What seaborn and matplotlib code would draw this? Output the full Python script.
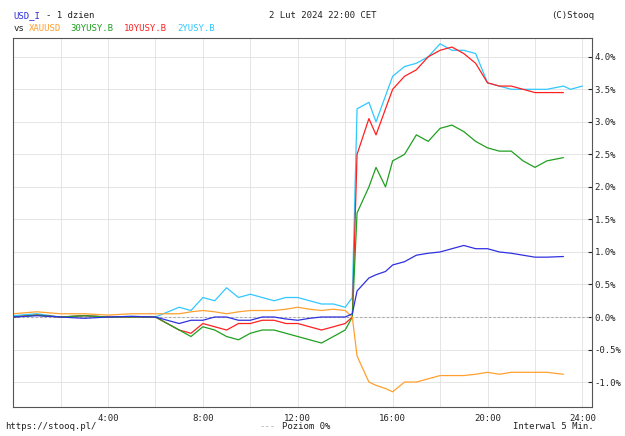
import matplotlib
matplotlib.use("Agg")
import matplotlib.pyplot as plt
import seaborn as sns
import pandas as pd
import numpy as np

sns.set_style("white")
plt.rcParams['font.family'] = ['DejaVu Sans Mono']

t_pre = [0,1,2,3,4,5,6,7,7.5,8,8.5,9,9.5,10,10.5,11,11.5,12,12.5,13,13.5,14,14.3]
t_post = [14.5,15,15.3,15.7,16,16.5,17,17.5,18,18.5,19,19.5,20,20.5,21,21.5,22,22.5,23.2]

usd_pre = [0,0.02,0,-0.02,0,0.01,0,-0.1,-0.05,-0.05,0,0,-0.05,-0.05,0,0,-0.03,-0.05,-0.02,0,0,0,0.05]
usd_post = [0.4,0.6,0.65,0.7,0.8,0.85,0.95,0.98,1.0,1.05,1.1,1.05,1.05,1.0,0.98,0.95,0.92,0.92,0.93]

y2_pre = [0.02,0.05,0,0.02,0,0.01,0,0.15,0.1,0.3,0.25,0.45,0.3,0.35,0.3,0.25,0.3,0.3,0.25,0.2,0.2,0.15,0.3]
y2_post = [3.2,3.3,3.0,3.4,3.7,3.85,3.9,4.0,4.2,4.1,4.1,4.05,3.6,3.55,3.5,3.5,3.5,3.5,3.55]
t_y2_end = [23.5,24.0]
y2_end = [3.5,3.55]

y10_pre = [0,0.03,0,0.02,0,0,0,-0.2,-0.25,-0.1,-0.15,-0.2,-0.1,-0.1,-0.05,-0.05,-0.1,-0.1,-0.15,-0.2,-0.15,-0.1,0.0]
y10_post = [2.5,3.05,2.8,3.2,3.5,3.7,3.8,4.0,4.1,4.15,4.05,3.9,3.6,3.55,3.55,3.5,3.45,3.45,3.45]

y30_pre = [0,0.03,0,0.02,0,0,0,-0.2,-0.3,-0.15,-0.2,-0.3,-0.35,-0.25,-0.2,-0.2,-0.25,-0.3,-0.35,-0.4,-0.3,-0.2,0.0]
y30_post = [1.6,2.0,2.3,2.0,2.4,2.5,2.8,2.7,2.9,2.95,2.85,2.7,2.6,2.55,2.55,2.4,2.3,2.4,2.45]

xau_pre = [0.05,0.08,0.05,0.05,0.03,0.05,0.05,0.05,0.08,0.1,0.08,0.05,0.08,0.1,0.1,0.1,0.12,0.15,0.12,0.1,0.12,0.1,0.0]
xau_post = [-0.6,-1.0,-1.05,-1.1,-1.15,-1.0,-1.0,-0.95,-0.9,-0.9,-0.9,-0.88,-0.85,-0.88,-0.85,-0.85,-0.85,-0.85,-0.88]

series = [
    ("USD_I", usd_pre + usd_post, t_pre + t_post, "#3030e0"),
    ("XAUUSD", xau_pre + xau_post, t_pre + t_post, "#ffa030"),
    ("30YUSY.B", y30_pre + y30_post, t_pre + t_post, "#20a020"),
    ("10YUSY.B", y10_pre + y10_post, t_pre + t_post, "#ff2020"),
    ("2YUSY.B", y2_pre + y2_post + y2_end, t_pre + t_post + t_y2_end, "#30c8ff"),
]

fig = plt.figure(figsize=(6.25, 4.36), dpi=100)
ax = fig.add_axes([0.021, 0.067, 0.926, 0.846])
ax.axhline(0, color="#aaaaaa", lw=0.8, ls=(0, (2, 2)))
for name, vals, ts, col in reversed(series):
    df = pd.DataFrame({"t": ts, "v": vals})
    sns.lineplot(data=df, x="t", y="v", ax=ax, color=col, lw=0.9, estimator=None, sort=False)

ax.set_xlim(0, 24.4)
ax.set_ylim(-1.38, 4.29)
ax.set_xticks(range(0, 25, 2))
ax.set_xticklabels(["" if h % 4 or h == 0 else f"{h}:00" for h in range(0, 25, 2)], fontsize=6.5)
yt = np.arange(-1.0, 4.01, 0.5)
ax.set_yticks(yt)
ax.set_yticklabels([f"{v:.1f}%" for v in yt], fontsize=6.5)
ax.yaxis.tick_right()
ax.tick_params(axis="both", length=3, direction="in", pad=2)
ax.tick_params(axis="x", direction="out")
ax.grid(True, color="#e0e0e0", lw=0.6)
ax.set_xlabel(""); ax.set_ylabel("")
for s in ax.spines.values():
    s.set_color("#555555"); s.set_linewidth(0.8)

fs = 6.5
fig.text(0.021, 0.958, "USD_I", color="#3030e0", fontsize=fs)
fig.text(0.073, 0.958, "- 1 dzien", color="#222222", fontsize=fs)
fig.text(0.021, 0.93, "vs", color="#222222", fontsize=fs)
x = 0.046
for name, _, _, col in series[1:]:
    fig.text(x, 0.93, name, color=col, fontsize=fs)
    x += 0.0095 * (len(name) + 1)
fig.text(0.43, 0.958, "2 Lut 2024 22:00 CET", color="#222222", fontsize=fs)
fig.text(0.95, 0.958, "(C)Stooq", color="#222222", fontsize=fs, ha="right")
fig.text(0.008, 0.015, "https://stooq.pl/", color="#222222", fontsize=fs)
fig.text(0.415, 0.015, "---", color="#aaaaaa", fontsize=fs)
fig.text(0.452, 0.015, "Poziom 0%", color="#222222", fontsize=fs)
fig.text(0.95, 0.015, "Interwal 5 Min.", color="#222222", fontsize=fs, ha="right")
fig.savefig("out.png", dpi=100)
